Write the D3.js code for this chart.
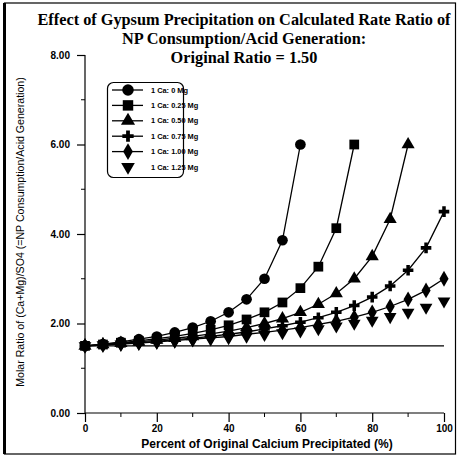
<!DOCTYPE html>
<html>
<head>
<meta charset="utf-8">
<script src="https://cdn.jsdelivr.net/npm/d3@7"></script>
<style>
  body { margin: 0; background: #fff; }
  svg { display: block; }
</style>
</head>
<body>
<svg width="459" height="460"></svg>
<script>
// percent of original Ca precipitated
var pct = [0, 5, 10, 15, 20, 25, 30, 35, 40, 45, 50, 55, 60, 65, 70, 75, 80, 85, 90, 95, 100];

// molar ratio, one array per Mg level
var mg000 = [1.50, 1.54, 1.59, 1.65, 1.71, 1.80, 1.91, 2.05, 2.25, 2.54, 3.00, 3.86, 6.00];
var mg025 = [1.50, 1.53, 1.57, 1.61, 1.66, 1.71, 1.78, 1.86, 1.96, 2.09, 2.25, 2.47, 2.79, 3.27, 4.13, 6.00];
var mg050 = [1.50, 1.53, 1.56, 1.59, 1.63, 1.67, 1.71, 1.77, 1.83, 1.91, 2.00, 2.11, 2.25, 2.43, 2.67, 3.00, 3.50, 4.33, 6.00];
var mg075 = [1.50, 1.52, 1.55, 1.57, 1.60, 1.64, 1.67, 1.71, 1.76, 1.81, 1.88, 1.95, 2.03, 2.13, 2.25, 2.40, 2.59, 2.84, 3.19, 3.69, 4.50];
var mg100 = [1.50, 1.52, 1.54, 1.56, 1.59, 1.62, 1.65, 1.68, 1.71, 1.76, 1.80, 1.85, 1.91, 1.98, 2.05, 2.14, 2.25, 2.38, 2.54, 2.74, 3.00];
var mg125 = [1.50, 1.52, 1.54, 1.56, 1.58, 1.60, 1.63, 1.65, 1.68, 1.71, 1.75, 1.79, 1.83, 1.88, 1.94, 2.00, 2.07, 2.15, 2.25, 2.36, 2.50];

var seriesNames = ["1 Ca: 0 Mg", "1 Ca: 0.25 Mg", "1 Ca: 0.50 Mg", "1 Ca: 0.75 Mg", "1 Ca: 1.00 Mg", "1 Ca: 1.25 Mg"];
var seriesValues = [mg000, mg025, mg050, mg075, mg100, mg125];
var originalRatio = 1.50;

var xTicks = [0, 20, 40, 60, 80, 100];
var yTicks = [0, 2, 4, 6, 8];
var titleLines = ["Effect of Gypsum Precipitation on Calculated Rate Ratio of",
                  "NP Consumption/Acid Generation:",
                  "Original Ratio = 1.50"];

var svg = d3.select("svg");

// scanned page frame
svg.append("rect").attr("x", 4.5).attr("y", 3).attr("width", 451).attr("height", 451)
  .attr("fill", "none").attr("stroke", "#000").attr("stroke-width", 1.2);
svg.append("line").attr("x1", 4.5).attr("x2", 4.5).attr("y1", 3).attr("y2", 454)
  .attr("stroke", "#000").attr("stroke-width", 3);

var x = d3.scaleLinear().domain([0, 100]).range([85, 444]);
var y = d3.scaleLinear().domain([0, 8]).range([413, 55]);

// title
svg.append("g").selectAll("text").data(titleLines).enter().append("text")
  .attr("x", 244)
  .attr("y", function(d, i) { return 25 + i * 19; })
  .attr("text-anchor", "middle")
  .style("font-family", "Liberation Serif, serif")
  .style("font-weight", "bold")
  .style("font-size", "16.3px")
  .text(function(d) { return d; });

// axes
var xAxis = svg.append("g").attr("transform", "translate(0," + y(0) + ")")
  .call(d3.axisBottom(x).tickValues(xTicks).tickSize(9).tickPadding(3).tickFormat(d3.format("d")));
xAxis.append("g").selectAll("line").data([10, 30, 50, 70, 90]).enter().append("line")
  .attr("x1", function(d) { return x(d); }).attr("x2", function(d) { return x(d); })
  .attr("y1", 0).attr("y2", 4).attr("stroke", "#000");

var yAxis = svg.append("g").attr("transform", "translate(" + x(0) + ",0)")
  .call(d3.axisLeft(y).tickValues(yTicks).tickSize(8).tickPadding(7).tickFormat(d3.format(".2f")));
yAxis.append("g").selectAll("line").data([1, 3, 5, 7]).enter().append("line")
  .attr("y1", function(d) { return y(d); }).attr("y2", function(d) { return y(d); })
  .attr("x1", 0).attr("x2", -4).attr("stroke", "#000");

xAxis.select(".domain").attr("d", "M" + x(0) + ",0H" + x(100));
yAxis.select(".domain").attr("d", "M0," + y(0) + "V" + y(8));
svg.selectAll(".domain").attr("stroke", "#000").attr("stroke-width", 1.2);
svg.selectAll(".tick line").attr("stroke", "#000").attr("stroke-width", 1.2);
svg.selectAll(".tick text")
  .style("font-family", "Arial, Liberation Sans, sans-serif")
  .style("font-weight", "bold")
  .style("font-size", "10px")
  .attr("fill", "#000");

// axis titles
svg.append("text")
  .attr("x", 267).attr("y", 448)
  .attr("text-anchor", "middle")
  .style("font-family", "Arial, Liberation Sans, sans-serif")
  .style("font-weight", "bold")
  .style("font-size", "12px")
  .text("Percent of Original Calcium Precipitated (%)");
svg.append("text")
  .attr("transform", "translate(24,232) rotate(-90)")
  .attr("text-anchor", "middle")
  .style("font-family", "Arial, Liberation Sans, sans-serif")
  .style("font-size", "10.6px")
  .text("Molar Ratio of (Ca+Mg)/SO4 (=NP Consumption/Acid Generation)");

// original ratio reference line
svg.append("line")
  .attr("x1", x(0)).attr("x2", x(100))
  .attr("y1", y(originalRatio)).attr("y2", y(originalRatio))
  .attr("stroke", "#000").attr("stroke-width", 1.3);

var symbols = [
  { type: d3.symbolCircle, size: 90, rot: 0 },
  { type: d3.symbolSquare, size: 95, rot: 0 },
  { type: d3.symbolTriangle, size: 75, rot: 0 },
  { type: d3.symbolCross, size: 62, rot: 0 },
  { type: d3.symbolDiamond, size: 72, rot: 0 },
  { type: d3.symbolTriangle, size: 70, rot: 180 }
];
var hasLine = [true, true, true, true, true, false];

var line = d3.line()
  .x(function(d) { return x(d[0]); })
  .y(function(d) { return y(d[1]); });

seriesValues.forEach(function(vals, i) {
  var pts = vals.map(function(v, j) { return [pct[j], v]; });
  if (hasLine[i]) {
    svg.append("path").datum(pts)
      .attr("d", line)
      .attr("fill", "none").attr("stroke", "#000").attr("stroke-width", 1.3);
  }
  svg.append("g").selectAll("path").data(pts).enter().append("path")
    .attr("transform", function(d) {
      return "translate(" + x(d[0]) + "," + y(d[1]) + ") rotate(" + symbols[i].rot + ")";
    })
    .attr("d", d3.symbol().type(symbols[i].type).size(symbols[i].size))
    .attr("fill", "#000");
});

// legend
var legend = svg.append("g");
legend.append("rect")
  .attr("x", 107.5).attr("y", 82.5).attr("width", 76).attr("height", 95)
  .attr("rx", 6).attr("ry", 6)
  .attr("fill", "#fff").attr("stroke", "#000").attr("stroke-width", 1.2);
var rows = legend.selectAll(".row").data(seriesNames).enter().append("g")
  .attr("class", "row")
  .attr("transform", function(d, i) { return "translate(0," + (90 + i * 15.4) + ")"; });
rows.filter(function(d, i) { return hasLine[i]; }).append("line")
  .attr("x1", 112).attr("x2", 143).attr("y1", 0).attr("y2", 0)
  .attr("stroke", "#000").attr("stroke-width", 1.3);
rows.append("path")
  .attr("transform", function(d, i) { return "translate(128,0) rotate(" + symbols[i].rot + ")"; })
  .attr("d", function(d, i) { return d3.symbol().type(symbols[i].type).size(symbols[i].size * 1.15)(); })
  .attr("fill", "#000");
rows.append("text")
  .attr("x", 151).attr("y", 2.6)
  .style("font-family", "Arial, Liberation Sans, sans-serif")
  .style("font-size", "7.4px")
  .style("font-weight", "bold")
  .text(function(d) { return d; });
</script>
</body>
</html>
